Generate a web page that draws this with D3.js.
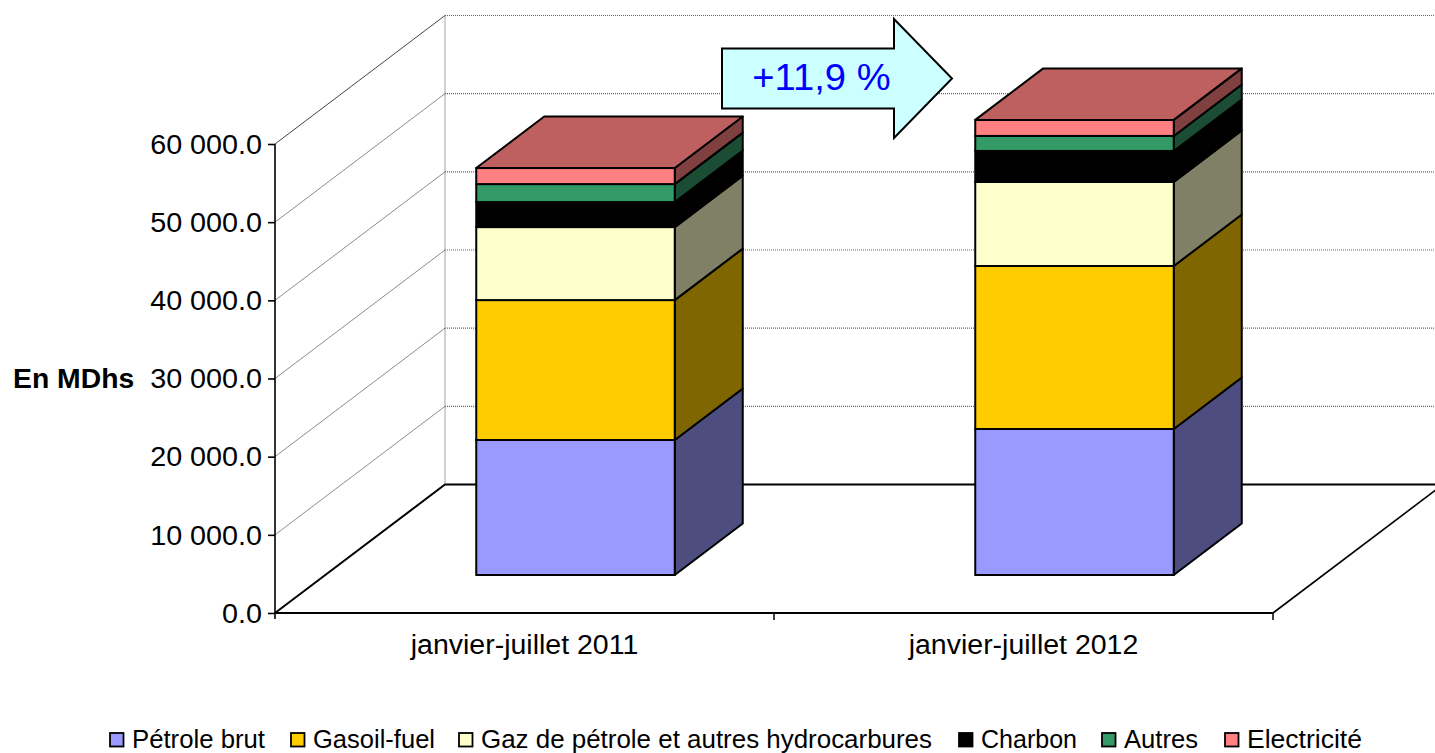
<!DOCTYPE html>
<html><head><meta charset="utf-8">
<script src="https://cdn.jsdelivr.net/npm/d3@7"></script>
<style>html,body{margin:0;padding:0;background:#fff;overflow:hidden}svg{display:block}text{font-family:"Liberation Sans",Arial,sans-serif;fill:#000}</style>
</head><body><svg id="c" width="1435" height="753"></svg>
<script>
const categories = ["janvier-juillet 2011", "janvier-juillet 2012"];
const seriesNames = ["Pétrole brut", "Gasoil-fuel", "Gaz de pétrole et autres hydrocarbures", "Charbon", "Autres", "Electricité"];
const petrole = [17270, 18680];
const gasoil = [17900, 20850];
const gaz = [9340, 10750];
const charbon = [3200, 3970];
const autres = [2300, 1920];
const electricite = [2050, 2050];
const frontColors = ["#9999FF", "#FFCC00", "#FFFFCC", "#000000", "#339966", "#FF8080"];
const sideColors = ["#4D4D80", "#806600", "#808066", "#000000", "#1A4D33", "#804040"];
const topColor = "#BF6060";
const yTicks = [0, 10000, 20000, 30000, 40000, 50000, 60000];
const series = [petrole, gasoil, gaz, charbon, autres, electricite];
const legendLeft = [109, 290, 458, 958, 1101, 1224];
const legendTextWidth = [133, 122, 451, 96, 74, 115];

const svg = d3.select("#c");
const y = d3.scaleLinear().domain([0, 60000]).range([613, 144]);
const x = d3.scaleBand().domain(categories).range([275, 1273]);
const wall = {dx: 170, dy: -128.5};
const inset = {dx: 51, dy: -38};
const depth = {dx: 68, dy: -51.5};
const barW = 198.5;
const fmt = v => d3.format(",.1f")(v).replace(/,/g, " ");
const line = d3.line();
function stretch(sel, f) {
  sel.each(function () {
    const w = this.getComputedTextLength();
    d3.select(this).attr("textLength", w * f).attr("lengthAdjust", "spacingAndGlyphs");
  });
}

// walls & gridlines
yTicks.slice(1).forEach(t => {
  const yy = y(t);
  svg.append("path").attr("d", line([[275, yy], [275 + wall.dx, yy + wall.dy]]))
    .attr("fill", "none").attr("stroke", t === 60000 ? "#444" : "#8c8c8c").attr("stroke-width", 1);
  svg.append("path").attr("d", line([[275 + wall.dx, yy + wall.dy], [1435, yy + wall.dy]]))
    .attr("fill", "none").attr("stroke", "#666").attr("stroke-width", 1.2).attr("stroke-dasharray", "1 1");
});
svg.append("path").attr("d", line([[275 + wall.dx, y(0) + wall.dy], [275 + wall.dx, y(60000) + wall.dy]]))
  .attr("fill", "none").attr("stroke", "#666").attr("stroke-width", 1.2).attr("stroke-dasharray", "1 1");

// floor
svg.append("path").attr("d", line([[275, y(0)], [275 + wall.dx, y(0) + wall.dy], [1435, y(0) + wall.dy]]))
  .attr("fill", "none").attr("stroke", "#000").attr("stroke-width", 2);
svg.append("path").attr("d", line([[1273, y(0)], [1273 + wall.dx, y(0) + wall.dy]]))
  .attr("fill", "none").attr("stroke", "#000").attr("stroke-width", 1.6);

// axes
const yAxis = d3.axisLeft(y).tickValues(yTicks).tickFormat(fmt).tickSize(7).tickPadding(6);
const gy = svg.append("g").attr("transform", "translate(275,0)").call(yAxis);
gy.select(".domain").attr("stroke-width", 1.6).attr("d", `M0,${y(60000)}V${y(0) + 6}`);
gy.selectAll(".tick line").attr("stroke-width", 1.6);
gy.selectAll("text").style("font-family", '"Liberation Sans"').style("font-size", "27px").attr("dy", "0.345em")
  .attr("fill", "#000").call(stretch, 1.064);

const xAxis = d3.axisBottom(x).tickSize(0).tickPadding(22);
const gx = svg.append("g").attr("transform", `translate(0,${y(0)})`).call(xAxis);
gx.select(".domain").attr("stroke-width", 1.9).attr("d", "M275,0H1273");
gx.selectAll("text").style("font-family", '"Liberation Sans"').style("font-size", "27px").attr("fill", "#000").call(stretch, 1.055);
[774, 1273].forEach(px => svg.append("line").attr("x1", px).attr("x2", px).attr("y1", y(0)).attr("y2", y(0) + 7)
  .attr("stroke", "#000").attr("stroke-width", 1.5));

svg.append("text").attr("x", 13).attr("y", 388).attr("font-size", 27).attr("font-weight", "bold").text("En MDhs").call(stretch, 1.05);

// bars
categories.forEach((c, ci) => {
  const left = x(c) + x.bandwidth() / 2 - barW / 2 + inset.dx;
  const g = svg.append("g");
  let base = 0;
  series.forEach((s, si) => {
    const y0 = y(base) + inset.dy, y1 = y(base + s[ci]) + inset.dy, r = left + barW;
    g.append("path").attr("d", line([[r, y0], [r + depth.dx, y0 + depth.dy], [r + depth.dx, y1 + depth.dy], [r, y1]]) + "Z")
      .attr("fill", sideColors[si]).attr("stroke", "#000").attr("stroke-width", 2).attr("stroke-linejoin", "round");
    g.append("rect").attr("x", left).attr("y", y1).attr("width", barW).attr("height", y0 - y1)
      .attr("fill", frontColors[si]).attr("stroke", "#000").attr("stroke-width", 2);
    base += s[ci];
    if (si === series.length - 1) {
      g.append("path").attr("d", line([[left, y1], [left + barW, y1], [r + depth.dx, y1 + depth.dy], [left + depth.dx, y1 + depth.dy]]) + "Z")
        .attr("fill", topColor).attr("stroke", "#000").attr("stroke-width", 2).attr("stroke-linejoin", "round");
    }
  });
});

// arrow annotation
svg.append("path").attr("d", line([[722, 48.5], [894, 48.5], [894, 19], [952, 78.5], [894, 138], [894, 108.5], [722, 108.5]]) + "Z")
  .attr("fill", "#CCFFFF").attr("stroke", "#000").attr("stroke-width", 2);
svg.append("text").attr("x", 821.5).attr("y", 89.5).attr("text-anchor", "middle").attr("font-size", 37.5)
  .style("fill", "#0000FF").text("+11,9 %").call(stretch, 1.018);

// legend
const legend = svg.append("g");
seriesNames.forEach((n, i) => {
  legend.append("rect").attr("x", legendLeft[i] + 1).attr("y", 733).attr("width", 13.5).attr("height", 13.5)
    .attr("fill", frontColors[i]).attr("stroke", "#000").attr("stroke-width", 1.8);
  legend.append("text").attr("x", legendLeft[i] + 23).attr("y", 748).attr("font-size", 25).text(n)
    .attr("textLength", legendTextWidth[i]).attr("lengthAdjust", "spacingAndGlyphs");
});
</script></body></html>
